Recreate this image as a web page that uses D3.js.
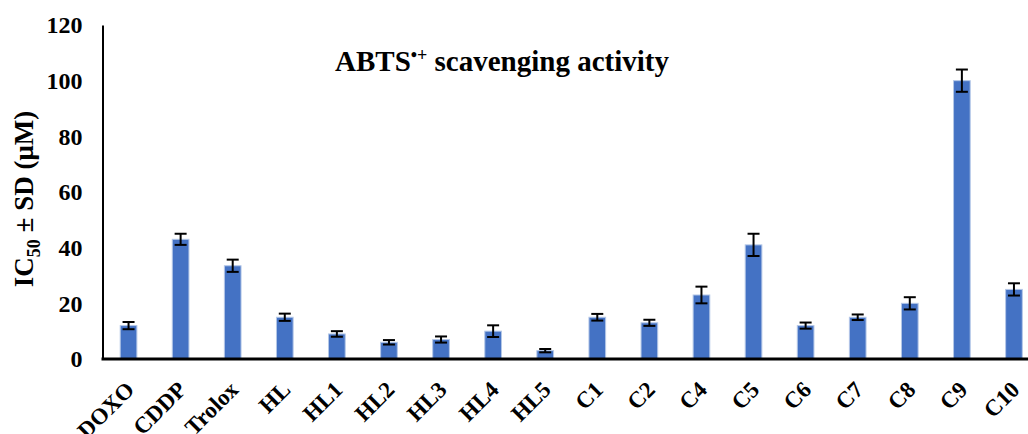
<!DOCTYPE html>
<html>
<head>
<meta charset="utf-8">
<script src="https://cdn.jsdelivr.net/npm/d3@7"></script>
<style>
  html, body { margin: 0; padding: 0; background: #fff; }
  svg { display: block; }
  text { font-family: "Liberation Serif", "Times New Roman", serif; font-weight: bold; fill: #000; }
</style>
</head>
<body>
<svg id="chart" width="1028" height="434"></svg>
<script>
const categories = ["DOXO", "CDDP", "Trolox", "HL", "HL1", "HL2", "HL3", "HL4", "HL5", "C1", "C2", "C4", "C5", "C6", "C7", "C8", "C9", "C10"];
const values = [12, 43, 33.5, 15, 9, 6, 7, 10, 3, 15, 13, 23, 41, 12, 15, 20, 100, 25];
const errors = [1.3, 2, 2.2, 1.3, 1, 0.8, 1.1, 2.1, 0.6, 1.2, 1.1, 3, 4, 1.1, 1, 2.2, 4, 2.2];
const yTicks = [0, 20, 40, 60, 80, 100, 120];

const svg = d3.select("#chart");
const mLeft = 102.5, mTop = 25, mBottom = 359;

const x = d3.scaleBand().domain(categories).range([mLeft, 1040]).paddingInner(0.68).paddingOuter(0.34);
const y = d3.scaleLinear().domain([0, 120]).range([mBottom, mTop]);

// bars
svg.append("g").selectAll("rect").data(categories).join("rect")
  .attr("x", d => x(d))
  .attr("width", x.bandwidth())
  .attr("y", (d, i) => y(values[i]))
  .attr("height", (d, i) => y(0) - y(values[i]))
  .attr("fill", "#4472C4")
  .attr("stroke", "#b4c7e7")
  .attr("stroke-width", 1);

// error bars
const eg = svg.append("g").attr("stroke", "#000").attr("stroke-width", 2);
categories.forEach((c, i) => {
  const cx = x(c) + x.bandwidth() / 2;
  const y1 = y(values[i] + errors[i]), y2 = y(values[i] - errors[i]);
  eg.append("line").attr("x1", cx).attr("x2", cx).attr("y1", y1).attr("y2", y2);
  eg.append("line").attr("x1", cx - 6).attr("x2", cx + 6).attr("y1", y1).attr("y2", y1);
  eg.append("line").attr("x1", cx - 6).attr("x2", cx + 6).attr("y1", y2).attr("y2", y2);
});

// y axis
const yAxis = d3.axisLeft(y).tickValues(yTicks).tickSize(0).tickPadding(20);
const yg = svg.append("g").attr("transform", `translate(${mLeft},0)`).call(yAxis);
yg.select(".domain").attr("stroke", "#000").attr("stroke-width", 2);
yg.selectAll("text").style("font-size", "24px").style("font-family", "Liberation Serif").style("font-weight", "bold");

// x axis
const xAxis = d3.axisBottom(x).tickSize(0).tickPadding(0);
const xg = svg.append("g").attr("transform", `translate(0,${mBottom})`).call(xAxis);
xg.select(".domain").remove();
svg.append("line").attr("x1", mLeft - 1).attr("x2", 1028).attr("y1", mBottom).attr("y2", mBottom)
  .attr("stroke", "#000").attr("stroke-width", 3);
xg.selectAll("text")
  .style("font-size", "23px").style("font-family", "Liberation Serif").style("font-weight", "bold")
  .attr("text-anchor", "end")
  .attr("dy", "0")
  .attr("transform", "translate(7,32) rotate(-45)");

// y label
const yl = svg.append("text")
  .attr("transform", "translate(33,199) rotate(-90)")
  .attr("text-anchor", "middle")
  .style("font-size", "27px");
yl.append("tspan").text("IC");
yl.append("tspan").attr("dy", 7).style("font-size", "18px").text("50");
yl.append("tspan").attr("dy", -7).text(" ± SD (μM)");

// title
const t = svg.append("text").attr("x", 335).attr("y", 71).style("font-size", "29px");
t.append("tspan").text("ABTS");
t.append("tspan").attr("dy", -10).style("font-size", "18px").text("•+");
t.append("tspan").attr("dy", 10).text(" scavenging activity");
</script>
</body>
</html>
